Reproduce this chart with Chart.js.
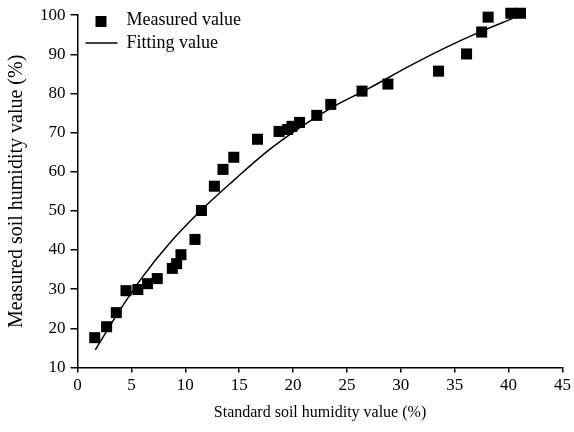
<!DOCTYPE html>
<html>
<head>
<meta charset="utf-8">
<script src="https://cdn.jsdelivr.net/npm/chart.js@4/dist/chart.umd.min.js"></script>
<style>
  html, body { margin: 0; padding: 0; background: #fff; }
  #wrap { width: 574px; height: 432px; }
</style>
</head>
<body>
<div id="wrap"><canvas id="chart"></canvas></div>
<script>
// Measured values (standard x, measured y)
const measuredX = [1.6, 2.7, 3.6, 4.5, 5.6, 6.5, 7.4, 8.8, 9.2, 9.6, 10.9, 11.5, 12.7, 13.5, 14.5,
                   16.7, 18.7, 19.5, 19.9, 20.6, 22.2, 23.5, 26.4, 28.8, 33.5, 36.1, 37.5, 38.1, 40.2, 41.1];
const measuredY = [17.6, 20.4, 24.0, 29.6, 29.9, 31.4, 32.7, 35.3, 36.5, 38.8, 42.7, 50.1, 56.3, 60.6, 63.7,
                   68.3, 70.3, 70.8, 71.6, 72.6, 74.4, 77.2, 80.6, 82.4, 85.7, 90.1, 95.7, 99.5, 100.5, 100.5];

// Fitting curve
const fitX = [1.65, 3.9, 6.0, 8.5, 11.3, 14.5, 17.6, 20.7, 23.8, 26.9, 31.0, 34.3, 37.4, 40.4];
const fitY = [14.5, 24.5, 33.0, 41.6, 49.7, 57.8, 65.2, 71.4, 76.7, 81.1, 87.3, 91.9, 95.8, 99.2];

const xTicks = [0, 5, 10, 15, 20, 25, 30, 35, 40, 45];
const yTicks = [10, 20, 30, 40, 50, 60, 70, 80, 90, 100];

const fontFamily = '"Liberation Serif", "Times New Roman", serif';

// Legend drawn inside the plot, top-left
const insideLegend = {
    id: 'insideLegend',
    afterDraw(chart) {
        const ctx = chart.ctx;
        const left = chart.chartArea.left;
        ctx.save();
        ctx.font = '18px ' + fontFamily;
        ctx.fillStyle = '#000';
        ctx.textBaseline = 'middle';
        // Measured value
        ctx.fillRect(left + 18, 16, 11, 11);
        ctx.fillText(chart.data.datasets[0].label, left + 49, 20);
        // Fitting value
        ctx.strokeStyle = '#000';
        ctx.lineWidth = 1.5;
        ctx.beginPath();
        ctx.moveTo(left + 8, 43);
        ctx.lineTo(left + 40, 43);
        ctx.stroke();
        ctx.fillText(chart.data.datasets[1].label, left + 49, 43);
        ctx.restore();
    }
};

new Chart(document.getElementById('chart'), {
    type: 'scatter',
    data: {
        datasets: [{
            label: 'Measured value',
            data: measuredX.map((x, i) => ({ x: x, y: measuredY[i] })),
            pointStyle: 'rect',
            pointRadius: 7.8,
            pointBorderWidth: 0,
            backgroundColor: '#000',
            borderColor: '#000',
            clip: false
        }, {
            label: 'Fitting value',
            data: fitX.map((x, i) => ({ x: x, y: fitY[i] })),
            showLine: true,
            tension: 0.4,
            cubicInterpolationMode: 'monotone',
            pointRadius: 0,
            borderColor: '#000',
            borderWidth: 1.5,
            backgroundColor: '#000'
        }]
    },
    options: {
        responsive: true,
        maintainAspectRatio: false,
        animation: false,
        layout: {
            padding: { left: 5, right: 2, top: 12, bottom: 10 }
        },
        plugins: {
            legend: { display: false },
            tooltip: { enabled: false }
        },
        scales: {
            x: {
                type: 'linear',
                min: 0,
                max: 45,
                afterBuildTicks: axis => { axis.ticks = xTicks.map(v => ({ value: v })); },
                grid: { drawOnChartArea: false, drawTicks: true, tickLength: 5, color: '#000', lineWidth: 1.5 },
                border: { color: '#000', width: 1.5 },
                ticks: { color: '#000', padding: 3, maxRotation: 0, font: { family: fontFamily, size: 17 } },
                title: {
                    display: true,
                    text: 'Standard soil humidity value (%)',
                    color: '#000',
                    padding: { top: 4, bottom: 0 },
                    font: { family: fontFamily, size: 16 }
                }
            },
            y: {
                type: 'linear',
                min: 10,
                max: 100,
                afterBuildTicks: axis => { axis.ticks = yTicks.map(v => ({ value: v })); },
                grid: { drawOnChartArea: false, drawTicks: true, tickLength: 7, color: '#000', lineWidth: 1.5 },
                border: { color: '#000', width: 1.5 },
                ticks: { color: '#000', padding: 5, font: { family: fontFamily, size: 17 } },
                title: {
                    display: true,
                    text: 'Measured soil humidity value (%)',
                    color: '#000',
                    padding: { top: 0, bottom: 6 },
                    font: { family: fontFamily, size: 20 }
                }
            }
        }
    },
    plugins: [insideLegend]
});
</script>
</body>
</html>
